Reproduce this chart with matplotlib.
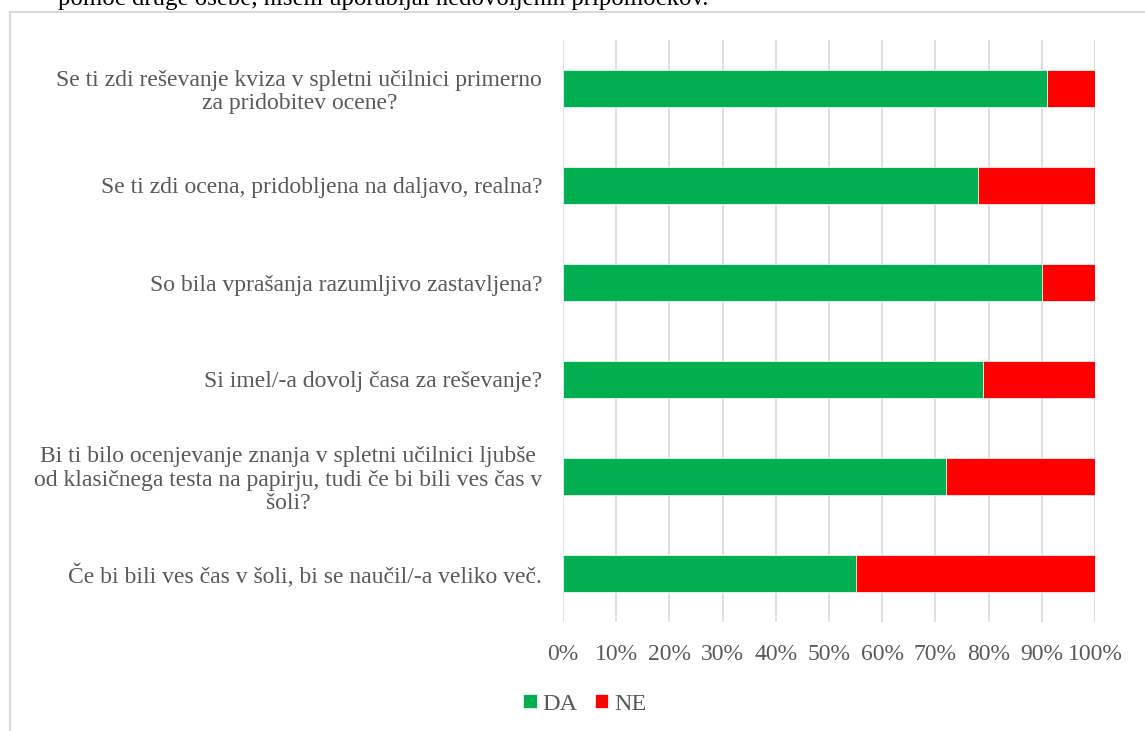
import matplotlib.pyplot as plt
import numpy as np
from matplotlib.patches import Rectangle

plt.rcParams['font.family'] = ['Liberation Serif', 'DejaVu Serif']

# ---------- data ----------
questions = [
	"Se ti zdi reševanje kviza v spletni učilnici primerno\nza pridobitev ocene?",
	"Se ti zdi ocena, pridobljena na daljavo, realna?",
	"So bila vprašanja razumljivo zastavljena?",
	"Si imel/-a dovolj časa za reševanje?",
	"Bi ti bilo ocenjevanje znanja v spletni učilnici ljubše\nod klasičnega testa na papirju, tudi če bi bili ves čas v\nšoli?",
	"Če bi bili ves čas v šoli, bi se naučil/-a veliko več.",
]
da = [0.91, 0.78, 0.90, 0.79, 0.72, 0.55]
ne = [0.09, 0.22, 0.10, 0.21, 0.28, 0.45]
series_names = ["DA", "NE"]
series_colors = ["#00B050", "#FF0000"]
xticks = np.arange(0, 1.01, 0.1)
xtick_labels = [f"{int(round(t*100))}%" for t in xticks]
header_text = "pomoč druge osebe, nisem uporabljal nedovoljenih pripomočkov."

W, H = 1145, 731
fig = plt.figure(figsize=(W/100, H/100), dpi=100)
ax = fig.add_axes([563/W, 1-622/H, (1095-563)/W, (622-40)/H])

y = np.arange(len(questions))
ax.barh(y, da, height=0.39, color=series_colors[0], edgecolor="white", linewidth=0.5,
		label=series_names[0], zorder=3)
ax.barh(y, ne, left=da, height=0.39, color=series_colors[1], edgecolor="white", linewidth=0.5,
		label=series_names[1], zorder=3)

ax.set_xlim(0, 1)
ax.set_ylim(len(questions)-0.5, -0.5)
ax.set_xticks(xticks)
ax.set_xticklabels(xtick_labels, fontsize=17)
ax.set_yticks(y)
ax.set_yticklabels(questions, multialignment="center", linespacing=1.15, fontsize=17)
ax.tick_params(axis="both", length=0, colors="#595959")
ax.tick_params(axis="x", pad=16)
ax.tick_params(axis="y", pad=15)
ax.grid(axis="x", color="#D9D9D9", linewidth=1.2, zorder=0)
for s in ax.spines.values():
	s.set_visible(False)

leg = fig.legend(loc="center", bbox_to_anchor=(585/W, 1-704/H), ncol=2, frameon=False,
				 fontsize=17.5, handlelength=0.55, handleheight=0.55, handletextpad=0.25,
				 columnspacing=0.7, borderaxespad=0)
for t in leg.get_texts():
	t.set_color("#595959")

# chart frame, cut off at the right and bottom edges
fig.patches.append(Rectangle((10/W, -0.05), 1.1, 1-12/H+0.05, transform=fig.transFigure,
							 fill=False, edgecolor="#D9D9D9", linewidth=1.5))

# end of the previous paragraph, cut off at the top
fig.text(58/W, 1-5/H, header_text, fontsize=17.8, color="black", va="baseline", ha="left")

fig.savefig("out.png", dpi=100, facecolor="white")
